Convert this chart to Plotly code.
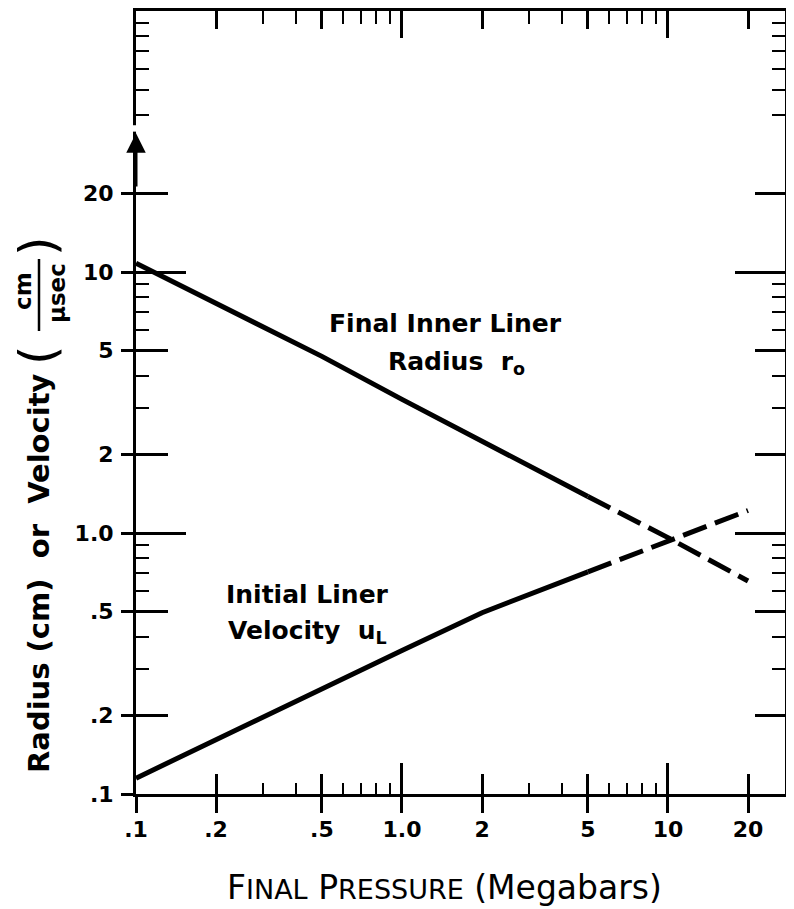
import plotly.graph_objects as go
import math

# ---------------- data ----------------
pressure_solid = [0.1, 0.2, 0.5, 1.0, 2.0, 5.0]
pressure_dash = [5.0, 10.0, 20.0]
radius_solid = [10.8, 7.6, 4.75, 3.25, 2.24, 1.38]
radius_dash = [1.38, 0.96, 0.655]
velocity_solid = [0.115, 0.162, 0.255, 0.355, 0.495, 0.71]
velocity_dash = [0.71, 0.93, 1.22]

x_major = [0.1, 0.2, 0.5, 1.0, 2.0, 5.0, 10.0, 20.0]
x_major_text = [".1", ".2", ".5", "1.0", "2", "5", "10", "20"]
x_mid = [0.2, 0.5, 2.0, 5.0, 20.0]
x_long = [1.0, 10.0]
x_minor = [0.3, 0.4, 0.6, 0.7, 0.8, 0.9, 3, 4, 6, 7, 8, 9]

y_major = [0.1, 0.2, 0.5, 1.0, 2.0, 5.0, 10.0, 20.0]
y_major_text = [".1", ".2", ".5", "1.0", "2", "5", "10", "20"]
y_mid = [0.2, 0.5, 2.0, 5.0, 20.0]
y_long = [1.0, 10.0]
y_minor = [0.3, 0.4, 0.6, 0.7, 0.8, 0.9, 3, 4, 6, 7, 8, 9, 40, 50, 60, 70, 80, 90]

X_RANGE = [-1, 1.44]
Y_RANGE = [-1, 2]

FONT = "DejaVu Sans"
INK = "black"

ML, MR, MT, MB = 128, 17, 3, 123
W, H = 794, 909
PW, PH = W - ML - MR, H - MT - MB
OFF = 7  # page offset of the plot div

def sx(px):
    return (px - OFF - ML) / PW

def sy(py):
    return (H - MB - (py - OFF)) / PH

fig = go.Figure()

line_w = 5
DASH = "25px,9px"
fig.add_trace(go.Scatter(x=pressure_solid, y=radius_solid, mode="lines",
                         line=dict(color=INK, width=line_w), showlegend=False, hoverinfo="skip"))
fig.add_trace(go.Scatter(x=pressure_dash, y=radius_dash, mode="lines",
                         line=dict(color=INK, width=line_w, dash=DASH), showlegend=False, hoverinfo="skip"))
fig.add_trace(go.Scatter(x=pressure_solid, y=velocity_solid, mode="lines",
                         line=dict(color=INK, width=line_w), showlegend=False, hoverinfo="skip"))
fig.add_trace(go.Scatter(x=pressure_dash, y=velocity_dash, mode="lines",
                         line=dict(color=INK, width=line_w, dash=DASH), showlegend=False, hoverinfo="skip"))

# empty traces so that the extra tick axes are registered
for xa, ya in [("x2", "y"), ("x3", "y"), ("x4", "y"), ("x5", "y"),
               ("x", "y2"), ("x", "y3"), ("x", "y4"), ("x", "y5")]:
    fig.add_trace(go.Scatter(x=[], y=[], xaxis=xa, yaxis=ya, showlegend=False, hoverinfo="skip"))

def tick_axis(**kw):
    d = dict(type="log", showgrid=False, zeroline=False, showticklabels=False,
             tickcolor=INK, tickwidth=2.5, showline=False)
    d.update(kw)
    return d

tick_font = dict(family=FONT, size=22, color=INK, weight="bold")

fig.update_layout(
    width=W, height=H,
    margin=dict(l=ML, r=MR, t=MT, b=MB),
    paper_bgcolor="white", plot_bgcolor="white",
    font=dict(family=FONT, color=INK),
    xaxis=dict(type="log", range=X_RANGE, tickvals=x_major, ticktext=x_major_text,
               ticks="outside", ticklen=16, tickwidth=2.5, tickcolor=INK,
               showline=True, linewidth=3, linecolor=INK, showgrid=False, zeroline=False,
               tickfont=tick_font, ticklabelstandoff=-2,
               minor=dict(tickvals=x_minor, ticks="inside", ticklen=11, tickwidth=2,
                          tickcolor=INK, showgrid=False)),
    xaxis2=tick_axis(overlaying="x", anchor="y", side="bottom", range=X_RANGE,
                     tickvals=x_mid, ticks="inside", ticklen=20),
    xaxis3=tick_axis(overlaying="x", anchor="y", side="bottom", range=X_RANGE,
                     tickvals=x_long, ticks="inside", ticklen=31),
    xaxis4=tick_axis(overlaying="x", anchor="y", side="top", range=X_RANGE,
                     tickvals=x_mid, ticks="inside", ticklen=18,
                     showline=True, linewidth=3, linecolor=INK,
                     minor=dict(tickvals=x_minor, ticks="inside", ticklen=13, tickwidth=2,
                                tickcolor=INK, showgrid=False)),
    xaxis5=tick_axis(overlaying="x", anchor="y", side="top", range=X_RANGE,
                     tickvals=x_long, ticks="inside", ticklen=27),
    yaxis=dict(type="log", range=Y_RANGE, tickvals=y_major, ticktext=y_major_text,
               ticks="outside", ticklen=12, tickwidth=2.5, tickcolor=INK,
               showline=True, linewidth=3, linecolor=INK, showgrid=False, zeroline=False,
               tickfont=tick_font, ticklabelstandoff=3,
               minor=dict(tickvals=y_minor, ticks="inside", ticklen=13, tickwidth=2,
                          tickcolor=INK, showgrid=False)),
    yaxis2=tick_axis(overlaying="y", anchor="x", side="left", range=Y_RANGE,
                     tickvals=y_mid, ticks="inside", ticklen=32),
    yaxis3=tick_axis(overlaying="y", anchor="x", side="left", range=Y_RANGE,
                     tickvals=y_long, ticks="inside", ticklen=50),
    yaxis4=tick_axis(overlaying="y", anchor="x", side="right", range=Y_RANGE,
                     tickvals=y_mid, ticks="inside", ticklen=30,
                     showline=True, linewidth=3, linecolor=INK,
                     minor=dict(tickvals=y_minor, ticks="inside", ticklen=13, tickwidth=2,
                                tickcolor=INK, showgrid=False)),
    yaxis5=tick_axis(overlaying="y", anchor="x", side="right", range=Y_RANGE,
                     tickvals=y_long, ticks="inside", ticklen=50),
)

lab_font = dict(family=FONT, size=25, color=INK, weight="bold")
annotations = [
    dict(text="Final Inner Liner", x=sx(326), y=sy(322), xanchor="left", yanchor="middle"),
    dict(text="Radius  r<sub>o</sub>", x=sx(385), y=sy(362), xanchor="left", yanchor="middle"),
    dict(text="Initial Liner", x=sx(223), y=sy(593), xanchor="left", yanchor="middle"),
    dict(text="Velocity  u<sub>L</sub>", x=sx(225), y=sy(631), xanchor="left", yanchor="middle"),
    dict(text="F<span style='font-size:27px'>INAL</span> P<span style='font-size:27px'>RESSURE</span> (Megabars)",
         x=sx(443), y=sy(886), xanchor="center", yanchor="middle",
         font=dict(family=FONT, size=33, color=INK)),
    dict(text="Radius (cm)  or  Velocity", x=sx(38), y=sy(572), textangle=-90,
         xanchor="center", yanchor="middle", font=dict(family=FONT, size=29, color=INK, weight="bold")),
    dict(text="(", x=sx(37), y=sy(354), textangle=-90,
         xanchor="center", yanchor="middle", font=dict(family=FONT, size=50, color=INK)),
    dict(text="cm", x=sx(22), y=sy(290), textangle=-90,
         xanchor="center", yanchor="middle", font=dict(family=FONT, size=23, color=INK, weight="bold")),
    dict(text="μsec", x=sx(56), y=sy(292), textangle=-90,
         xanchor="center", yanchor="middle", font=dict(family=FONT, size=23, color=INK, weight="bold")),
    dict(text=")", x=sx(37), y=sy(245), textangle=-90,
         xanchor="center", yanchor="middle", font=dict(family=FONT, size=50, color=INK)),
]
for a in annotations:
    a.setdefault("font", lab_font)
    fig.add_annotation(xref="paper", yref="paper", showarrow=False, **a)

# arrow on the left axis pointing upward from the 20 tick
fig.add_annotation(x=-1, y=math.log10(34), ax=-1, ay=math.log10(21), xref="x", yref="y",
                   axref="x", ayref="y", text="", showarrow=True, arrowhead=2,
                   arrowsize=1.3, arrowwidth=3, arrowcolor=INK, standoff=0, startstandoff=0)

# small break in the left axis line above the arrow
fig.add_shape(type="rect", xref="paper", yref="y", x0=-0.01, x1=0.01, y0=34.5, y1=36.5,
              fillcolor="white", line=dict(width=0), layer="above")

# fraction bar of cm / μsec
fig.add_shape(type="line", xref="paper", yref="paper", x0=sx(38), x1=sx(38),
              y0=sy(258), y1=sy(330), line=dict(color=INK, width=2.5))

fig.write_html("out.html")
